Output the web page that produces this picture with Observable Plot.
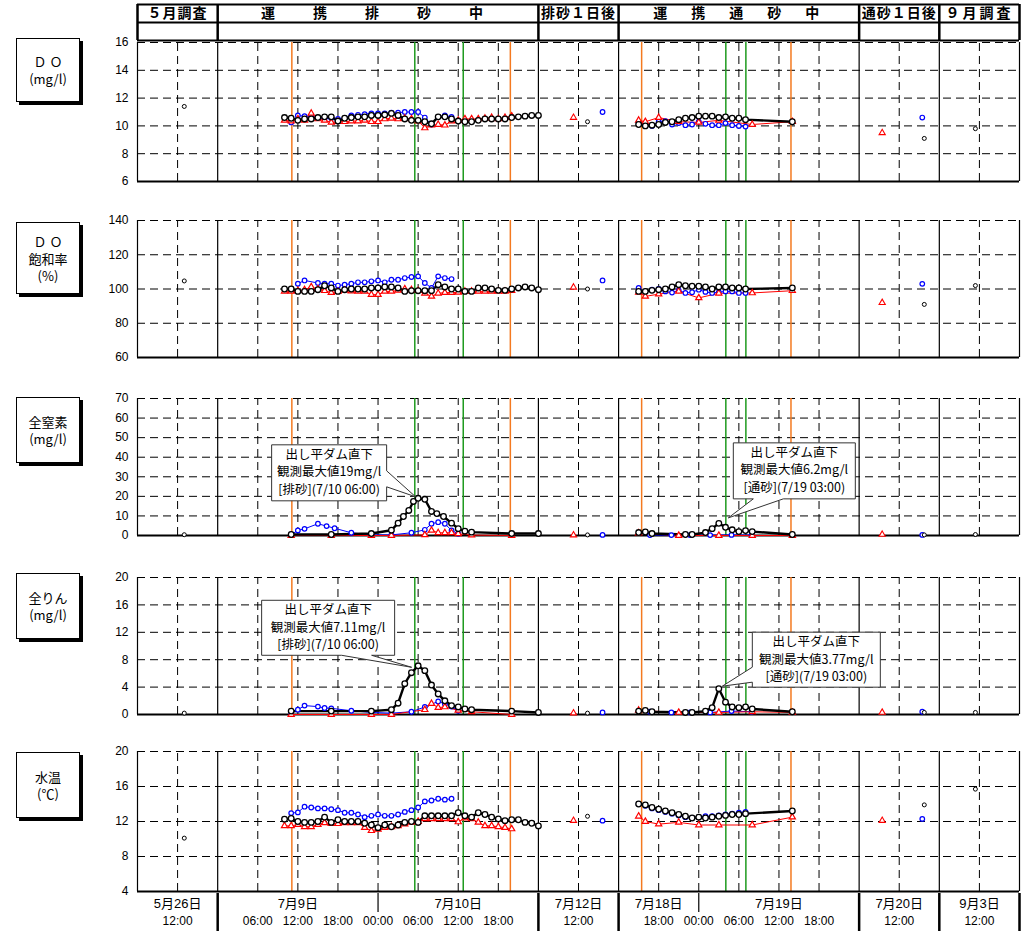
<!DOCTYPE html>
<html><head><meta charset="utf-8">
<script src="https://cdn.jsdelivr.net/npm/d3@7"></script>
<script src="https://cdn.jsdelivr.net/npm/@observablehq/plot@0.6"></script>
<style>
body{margin:0;background:#fff;}
#root{position:relative;width:1031px;height:931px;overflow:hidden;background:#fff;font-family:"Liberation Sans",Arial,"Noto Sans CJK JP",sans-serif;}
.pl{position:absolute;left:0;}
.lbl{position:absolute;border:1px solid #000;box-shadow:3px 3px 0 #000;background:#fff;text-align:center;font-family:"Noto Sans CJK JP",sans-serif;font-size:13px;line-height:17px;display:flex;flex-direction:column;justify-content:center;}
</style></head><body><div id="root"></div><script>
// ---------- x layout: six segments, each column = fixed number of hours ----------
const segStart = [0, 2, 10, 12, 18, 20];
const segHours = [12, 6, 12, 6, 12, 12];
const col = (seg, h) => segStart[seg] + h / segHours[seg];

const headerLabels = ["５月調査", "運　携　排　砂　中", "排砂１日後", "運　携　通　砂　中", "通砂１日後", "９月調査"];
const headerSeg = [0, 1, 2, 3, 4, 5];
const dateLabels = ["5月26日", "7月9日", "7月10日", "7月12日", "7月18日", "7月19日", "7月20日", "9月3日"];
const dateSeg = [0, 1, 1, 2, 3, 3, 4, 5];
const dateHour = [12, 12, 36, 12, 6, 24, 12, 12];
const timeLabels = ["12:00", "06:00", "12:00", "18:00", "00:00", "06:00", "12:00", "18:00", "12:00", "18:00", "00:00", "06:00", "12:00", "18:00", "12:00", "12:00"];
const timeSeg = [0, 1, 1, 1, 1, 1, 1, 1, 2, 3, 3, 3, 3, 3, 4, 5];
const timeHour = [12, 6, 12, 18, 24, 30, 36, 42, 12, 6, 12, 18, 24, 30, 12, 12];

// event lines (segment, hour)
const orangeSeg = [1, 1, 3, 3], orangeHour = [11.1, 43.8, 3.45, 25.8];
const greenSeg = [1, 1, 3, 3], greenHour = [29.5, 36.75, 16.05, 19.05];

// ---------- single survey points ----------
const spotSeg = [0, 2, 2, 2, 4, 4, 4, 5];
const spotSeries = ["black", "red", "black", "blue", "red", "blue", "black", "black"];
const spotHour = [14, 10.5, 14.7, 19.2, 6.9, 18.9, 19.5, 10.8];
const doSpot = [11.4, 10.6, 10.3, 11.0, 9.5, 10.6, 9.1, 9.8];
const satSpot = [104.7, 101, 100, 105, 92, 103, 91, 102];
const tnSpot = [0.4, 0.2, 0.3, 0.3, 0.5, 0.3, 0.3, 0.5];
const tpSpot = [0.2, 0.2, 0.2, 0.3, 0.3, 0.4, 0.3, 0.3];
const wtSpot = [10.1, 12.1, 12.6, 12.1, 12.1, 12.3, 13.9, 15.7];

// ---------- DO (mg/l) ----------
const doBlk1Start = 10;
const doBlk1 = [10.6,10.55,10.4,10.5,10.5,10.6,10.65,10.65,10.35,10.55,10.6,10.65,10.65,10.75,10.75,10.8,10.9,10.75,10.5,10.4,10.4,10.3,10.15,10.65,10.65,10.5,10.35,10.3,10.3,10.4,10.5,10.5,10.5,10.5,10.6,10.65,10.7,10.75,10.75];
const doBlu1Start = 11;
const doBlu1 = [10.25,10.75,10.7,10.7,10.6,10.55,10.55,10.5,10.55,10.75,10.8,10.85,10.9,10.9,10.9,10.95,10.95,11.0,11.0,11.0,10.6,10.1,10.65,10.75,10.65];
const doRed1Start = 10;
const doRed1 = [10.4,10.35,10.5,10.4,10.9,10.5,10.4,10.25,10.3,10.3,10.35,10.35,10.4,10.3,10.3,10.5,10.55,10.5,10.55,10.5,10.35,9.85,10.05,10.1,10.05,10.35,10.4,10.5,10.5,10.5,10.55,10.6,10.5,10.6,10.7];
const blk3Hours = [3,4,5,6,7,8,9,10,11,12,13,14,15,16,17,18,19,26];
const blu3Hours = [3,4,5,6,7,8,9,10,11,12,13,14,15,16,17,18,19];
const red3Hours = [3,4,6,9,12,15,20,26];
const doBlk3 = [10.1,10.0,10.05,10.1,10.25,10.3,10.45,10.55,10.6,10.7,10.7,10.7,10.6,10.65,10.55,10.55,10.45,10.3];
const doBlu3 = [10.2,10.1,10.0,10.3,10.35,10.1,10.2,10.05,10.1,10.3,10.15,10.05,10.05,10.2,10.05,10.0,9.95];
const doRed3 = [10.4,10.3,10.6,10.3,10.25,10.4,10.1,10.3];

// ---------- DO saturation (%) ----------
const satBlk1 = [100,100,98.6,98.6,98.6,99.6,101.9,100.6,98.6,99.6,100,100,100,100.6,100.6,101.2,101.2,100.6,98.6,99,99,99,99,102.5,101.2,100,100,98.6,98.6,100.6,100.6,100,99.2,99.2,100,100.6,101.2,100.6,99.6];
const satBlu1Hours = [12,13,15,16,17,18,19,20,21,22,23,24,25,26,27,28,29,30,31,32,33,34,35];
const satBlu1 = [103.1,105,103.5,103.1,103.1,102,102.5,103.1,103.9,103.9,104.5,105,103.9,105.4,105.4,106.4,107,107.4,103.5,100.6,107.4,106.4,105.8];
const satRed1 = [98.6,98.6,99,99.5,101.2,100,99,97.9,98.5,99.2,98.8,98.6,98.6,96.7,96.7,98.6,98.6,99.2,100,99.5,99,97.5,95.7,97.5,97.9,97.9,98,98.6,98.6,98.6,98.6,98.6,98.6,98.6,99];
const satBlk3 = [98.6,98.6,99.2,99.6,100,101.2,102.5,101.9,101.6,101.6,101.2,100,101.2,101.2,100.6,100.6,100,100.6];
const satBlu3 = [100.6,98.6,99.6,100,98.6,97.9,99.2,97.7,98.1,99.6,98.3,97.7,98.1,98.6,98.6,97.7,97.7];
const satRed3 = [98,95.7,97,98.6,94.8,97.5,97.7,99];

// ---------- total nitrogen (mg/l) ----------
const tnBlk1Hours = [11,17,23,26,27,27.8,28.6,29.3,30,31,32,32.8,33.8,35,36,37,38,44,48];
const tnBlk1 = [0.5,0.5,1.0,2.7,6.3,9.7,12.8,17.4,19.0,18.5,12.3,11.2,9.7,6.3,3.5,2.2,1.7,1.0,1.0];
const tnBlu1Hours = [11,12,13,15,16.3,17.5,20,23,26,29,31,32,33,34,35,36];
const tnBlu1 = [0.5,2.6,3.4,6.0,4.8,3.7,1.4,0.3,0.3,1.4,2.9,6.0,6.8,6.0,2.6,0.9];
const tnRed1Hours = [11,17,23,26,31,32,33,34,35,36,38,44];
const tnRed1 = [0,0,0,0,0.3,2.6,1.4,1.4,1.4,0.9,0.2,0];
const wq3BlkHours = [3,4,5,10,11,13,14,15,16,17,18,19,20,26];
const tnBlk3 = [1.5,1.8,1.0,0.5,0.5,1.5,3.5,6.2,4.2,2.9,2.0,2.5,2.0,0.5];
const wq3BluHours = [4.7,7.9,10.7,13.7,16.9,19.9];
const tnBlu3 = [0.2,0.2,0.2,0.2,0.3,0.2];
const wq3RedHours = [3,9,15,20,26];
const tnRed3 = [1.2,0,0,0,0];

// ---------- total phosphorus (mg/l) ----------
const tpBlk1Hours = [11,17,23,26,27,28,29,30,31,32,33,34,35,36,37,38,44,48];
const tpBlk1 = [0.5,0.5,0.5,0.7,1.65,4.5,6.1,7.11,6.4,4.3,3.0,2.0,1.3,1.1,0.8,0.7,0.5,0.3];
const tpBlu1Hours = [11,12,13,15,16,17,20,23,26,29,31,33,34,35,36];
const tpBlu1 = [0.3,0.7,1.3,1.15,0.95,0.9,0.55,0.3,0.2,0.4,1.1,1.9,1.55,1.15,0.55];
const tpRed1Hours = [11,17,23,26,31,32,33,34,36,38,44];
const tpRed1 = [0,0,0,0,0.7,1.6,1.0,1.1,0.6,0.4,0];
const tpBlk3 = [0.5,0.6,0.4,0.3,0.3,0.5,1.0,3.77,1.8,1.1,1.0,1.1,0.8,0.4];
const tpBlu3 = [0.4,0.3,0.3,0.3,0.5,0.4];
const tpRed3 = [0.6,0.3,0.3,0.4,0.3];

// ---------- water temperature (°C) ----------
const wtBlk1 = [12.27,12.35,12.0,11.9,11.9,12.0,12.5,11.9,12.2,12.0,12.0,12.0,11.8,11.6,11.3,11.6,11.4,11.6,11.9,12.0,11.9,12.65,12.65,12.65,12.65,12.65,13.0,12.65,12.5,13.0,12.8,12.5,12.3,12.1,12.2,12.2,11.9,11.8,11.5];
const wtBlu1 = [12.96,13.04,13.69,13.6,13.5,13.5,13.4,13.3,13.0,13.0,12.8,12.5,12.65,12.8,12.65,12.65,12.8,13.1,13.3,13.6,14.3,14.4,14.6,14.5,14.6];
const wtRed1 = [11.5,11.5,11.65,11.4,11.4,11.65,11.85,11.75,11.75,11.85,11.85,11.85,11.3,10.95,11.1,11.3,11.4,11.5,11.7,11.9,12.0,12.3,12.3,12.3,12.3,12.3,11.95,12.4,12.3,11.9,11.5,11.5,11.4,11.3,11.15];
const wtBlk3 = [14.0,13.9,13.6,13.4,13.2,13.0,12.8,12.6,12.4,12.5,12.4,12.5,12.6,12.7,12.8,12.8,12.9,13.2];
const wtBlu3 = [14.0,13.8,13.5,13.3,13.1,12.9,12.7,12.5,12.4,12.5,12.6,12.6,12.7,12.8,12.9,13.0,13.1];
const wtRed3 = [12.6,12.0,11.7,11.9,11.6,11.6,11.6,12.5];

const calloutLines = [
  ["出し平ダム直下", "観測最大値19mg/l", "[排砂](7/10 06:00)"],
  ["出し平ダム直下", "観測最大値6.2mg/l", "[通砂](7/19 03:00)"],
  ["出し平ダム直下", "観測最大値7.11mg/l", "[排砂](7/10 06:00)"],
  ["出し平ダム直下", "観測最大値3.77mg/l", "[通砂](7/19 03:00)"]
];

// ---------- helpers ----------
const hr = (h0, n) => d3.range(n).map(i => h0 + i);
function mk(s, seg, hours, vals) {
  return hours.map((h, i) => ({s, key: s + seg, x: col(seg, h), v: vals[i]}));
}
function spots(vals) {
  return vals.map((v, i) => ({s: spotSeries[i], key: "spot" + i, x: col(spotSeg[i], spotHour[i]), v}));
}

const panels = [
  {top: 42, bottom: 181, dom: [6, 16], ticks: [6, 8, 10, 12, 14, 16],
   data: [mk("blue",1,hr(doBlu1Start,doBlu1.length),doBlu1), mk("red",1,hr(doRed1Start,doRed1.length),doRed1), mk("black",1,hr(doBlk1Start,doBlk1.length),doBlk1),
          mk("blue",3,blu3Hours,doBlu3), mk("red",3,red3Hours,doRed3), mk("black",3,blk3Hours,doBlk3)], spot: doSpot,
   label: ["Ｄ Ｏ", "(mg/l)"], lbox: [16, 38, 62, 62]},
  {top: 220, bottom: 357, dom: [60, 140], ticks: [60, 80, 100, 120, 140],
   data: [mk("blue",1,satBlu1Hours,satBlu1), mk("red",1,hr(10,satRed1.length),satRed1), mk("black",1,hr(10,satBlk1.length),satBlk1),
          mk("blue",3,blu3Hours,satBlu3), mk("red",3,red3Hours,satRed3), mk("black",3,blk3Hours,satBlk3)], spot: satSpot,
   label: ["Ｄ Ｏ", "飽和率", "(%)"], lbox: [16, 222, 62, 70]},
  {top: 398, bottom: 535, dom: [0, 70], ticks: [0, 10, 20, 30, 40, 50, 60, 70],
   data: [mk("blue",1,tnBlu1Hours,tnBlu1), mk("red",1,tnRed1Hours,tnRed1), mk("black",1,tnBlk1Hours,tnBlk1),
          mk("blue",3,wq3BluHours,tnBlu3), mk("red",3,wq3RedHours,tnRed3), mk("black",3,wq3BlkHours,tnBlk3)], spot: tnSpot,
   label: ["全窒素", "(mg/l)"], lbox: [16, 397, 62, 64],
   callouts: [{i: 0, seg: 1, h: 30, v: 19, box: [-146, -53, 115, 56], wedge: "right", w1: 26, w2: 42, tip: [-2, -1]},
              {i: 1, seg: 3, h: 15, v: 6.2, box: [15, -80, 122, 56], wedge: "bottom", w1: 20, w2: 50, tip: [10, -5]}]},
  {top: 577, bottom: 714, dom: [0, 20], ticks: [0, 4, 8, 12, 16, 20],
   data: [mk("blue",1,tpBlu1Hours,tpBlu1), mk("red",1,tpRed1Hours,tpRed1), mk("black",1,tpBlk1Hours,tpBlk1),
          mk("blue",3,wq3BluHours,tpBlu3), mk("red",3,wq3RedHours,tpRed3), mk("black",3,wq3BlkHours,tpBlk3)], spot: tpSpot,
   label: ["全りん", "(mg/l)"], lbox: [16, 573, 62, 64],
   callouts: [{i: 2, seg: 1, h: 30, v: 7.11, box: [-156, -65, 133, 55], wedge: "bottom", w1: 80, w2: 110, tip: [-6, 2]},
              {i: 3, seg: 3, h: 15, v: 3.77, box: [34, -56, 128, 55], wedge: "left", w1: 35, w2: 50, tip: [4, -2]}]},
  {top: 751, bottom: 891, dom: [4, 20], ticks: [4, 8, 12, 16, 20],
   data: [mk("blue",1,hr(11,wtBlu1.length),wtBlu1), mk("red",1,hr(10,wtRed1.length),wtRed1), mk("black",1,hr(10,wtBlk1.length),wtBlk1),
          mk("blue",3,blu3Hours,wtBlu3), mk("red",3,red3Hours,wtRed3), mk("black",3,blk3Hours,wtBlk3)], spot: wtSpot,
   label: ["水温", "(℃)"], lbox: [16, 752, 62, 64]}
];

const sty = {
  black: {line: {stroke: "#000", strokeWidth: 2.4}, dot: {symbol: "circle", r: 2.8, fill: "#fff", stroke: "#000", strokeWidth: 1.3}, spot: {symbol: "circle", r: 2, fill: "#fff", stroke: "#000", strokeWidth: 1}},
  blue: {line: {stroke: "#0000ff", strokeWidth: 1}, dot: {symbol: "circle", r: 2.3, fill: "#fff", stroke: "#0000ff", strokeWidth: 1.2}, spot: {symbol: "circle", r: 2.3, fill: "#fff", stroke: "#0000ff", strokeWidth: 1.2}},
  red: {line: {stroke: "#ff0000", strokeWidth: 1}, dot: {symbol: "triangle", r: 2.3, fill: "#fff", stroke: "#ff0000", strokeWidth: 1.2}, spot: {symbol: "triangle", r: 2.3, fill: "#fff", stroke: "#ff0000", strokeWidth: 1.1}}
};

const gridCols = [1, 3, 4, 5, 6, 7, 8, 9, 11, 13, 14, 15, 16, 17, 19, 21];
const sepCols = [0, 2, 10, 12, 18, 20, 22];
const root = document.getElementById("root");
const MT = 8, MB = 4, ML = 137, MR = 12, W = 1031;
const xScale = {domain: [0, 22], axis: null};

panels.forEach(p => {
  const [lo, hi] = p.dom;
  const all = p.data.flat();
  const spotData = spots(p.spot);
  const marks = [
    Plot.ruleY(p.ticks.filter(t => t !== lo), {x1: 0, x2: 22, stroke: "#000", strokeWidth: 1, strokeDasharray: "8,5"}),
    Plot.ruleX(gridCols, {y1: lo, y2: hi, stroke: "#000", strokeWidth: 1, strokeDasharray: "8,5"}),
    Plot.ruleX(sepCols, {y1: lo, y2: hi, stroke: "#000", strokeWidth: 1.2}),
    Plot.ruleX(orangeSeg.map((s, i) => col(s, orangeHour[i])), {y1: lo, y2: hi, stroke: "#f47a20", strokeWidth: 1.5}),
    Plot.ruleX(greenSeg.map((s, i) => col(s, greenHour[i])), {y1: lo, y2: hi, stroke: "#1e9a1e", strokeWidth: 1.5}),
    Plot.ruleY([lo], {x1: 0, x2: 22, stroke: "#000", strokeWidth: 2})
  ];
  for (const s of ["blue", "red", "black"]) {
    marks.push(Plot.line(all.filter(d => d.s === s), {x: "x", y: "v", z: "key", ...sty[s].line}));
  }
  for (const s of ["blue", "red", "black"]) {
    marks.push(Plot.dot(all.filter(d => d.s === s), {x: "x", y: "v", ...sty[s].dot}));
    marks.push(Plot.dot(spotData.filter(d => d.s === s), {x: "x", y: "v", ...sty[s].spot}));
  }
  const h = p.bottom - p.top + MT + MB;
  const plot = Plot.plot({
    width: W, height: h, marginLeft: ML, marginRight: MR, marginTop: MT, marginBottom: MB,
    x: xScale,
    y: {domain: p.dom, ticks: p.ticks, tickSize: 0, tickPadding: 9, label: null},
    style: {fontSize: "12px", fontFamily: "'Liberation Sans', Arial, sans-serif", background: "transparent", color: "#000", overflow: "visible"},
    marks
  });
  const wrap = document.createElement("div");
  wrap.className = "pl";
  wrap.style.top = (p.top - MT) + "px";
  wrap.appendChild(plot);
  root.appendChild(wrap);

  // callouts anchored at the peak point through the plot scales
  (p.callouts || []).forEach(c => {
    const px = plot.scale("x").apply(col(c.seg, c.h));
    const py = plot.scale("y").apply(c.v);
    const [bx, by, bw, bh] = c.box;
    const L = px + bx, T = py + by, R = L + bw, B = T + bh;
    const tx = px + c.tip[0], ty = py + c.tip[1];
    let d;
    if (c.wedge === "bottom") d = `M${L},${T}H${R}V${B}H${L + c.w2}L${tx},${ty}L${L + c.w1},${B}H${L}Z`;
    else if (c.wedge === "right") d = `M${L},${T}H${R}V${T + c.w1}L${tx},${ty}L${R},${T + c.w2}V${B}H${L}Z`;
    else d = `M${L},${T}H${R}V${B}H${L}V${T + c.w2}L${tx},${ty}L${L},${T + c.w1}Z`;
    const g = d3.select(plot).append("g");
    g.append("path").attr("d", d).attr("fill", "#fff").attr("stroke", "#333").attr("stroke-width", 1);
    calloutLines[c.i].forEach((t, k) => {
      g.append("text").attr("x", L + bw / 2).attr("y", T + 14 + k * 17.5)
        .attr("text-anchor", "middle").attr("font-size", 12.5)
        .attr("font-family", "'Noto Sans CJK JP', sans-serif").text(t);
    });
  });

  const lb = document.createElement("div");
  lb.className = "lbl";
  const [lx, ly, lw, lh] = p.lbox;
  Object.assign(lb.style, {left: lx + "px", top: ly + "px", width: lw + "px", height: lh + "px"});
  lb.innerHTML = p.label.map(t => `<div>${t}</div>`).join("");
  root.appendChild(lb);
});

// ---------- header table ----------
const hdrCenters = headerSeg.map(s => segStart[s] + (s === 1 ? 4 : s === 3 ? 3 : 1));
const hdr = Plot.plot({
  width: W, height: 42, marginLeft: ML, marginRight: MR, marginTop: 4, marginBottom: 2,
  x: xScale, y: {domain: [0, 2], axis: null},
  style: {background: "transparent", overflow: "visible"},
  marks: [
    Plot.ruleY([0, 1, 2], {x1: 0, x2: 22, stroke: "#000", strokeWidth: 2}),
    Plot.ruleX(sepCols, {y1: 0, y2: 2, stroke: "#000", strokeWidth: 2.5}),
    Plot.text(headerLabels, {x: (d, i) => hdrCenters[i], y: 1.5, text: d => d, fontSize: 14, fontWeight: "bold",
      fontFamily: "'Noto Sans CJK JP', sans-serif", fill: "#000"})
  ]
});
d3.select(hdr).selectAll("text").each(function() {
  const t = this.textContent;
  if (t.startsWith("運")) this.setAttribute("letter-spacing", t.includes("排") ? "12" : "5");
  else if (t.startsWith("９")) this.setAttribute("letter-spacing", "3");
  else this.setAttribute("letter-spacing", "1");
});
const hw = document.createElement("div");
hw.className = "pl"; hw.style.top = "0px"; hw.appendChild(hdr); root.appendChild(hw);

// ---------- bottom time axis ----------
const bot = Plot.plot({
  width: W, height: 40, marginLeft: ML, marginRight: MR, marginTop: 0, marginBottom: 0,
  x: xScale, y: {domain: [0, 2], range: [0, 40], axis: null},
  style: {background: "transparent", overflow: "visible"},
  marks: [
    Plot.ruleX([2, 10, 12, 18, 20, 22], {y1: 0.1, y2: 2, stroke: "#000", strokeWidth: 2.5}),
    Plot.ruleX([6, 14], {y1: 0.1, y2: 1.05, stroke: "#000", strokeWidth: 1.2}),
    Plot.text(dateLabels, {x: (d, i) => col(dateSeg[i], dateHour[i]), y: 0.62, text: d => d, fontSize: 13,
      fontFamily: "'Liberation Sans', 'Noto Sans CJK JP', sans-serif", fill: "#000"}),
    Plot.text(timeLabels, {x: (d, i) => col(timeSeg[i], timeHour[i]), y: 1.5, text: d => d, fontSize: 12,
      fontFamily: "'Liberation Sans', Arial, sans-serif", fill: "#000"})
  ]
});
const bw2 = document.createElement("div");
bw2.className = "pl"; bw2.style.top = "891px"; bw2.appendChild(bot); root.appendChild(bw2);
</script></body></html>
